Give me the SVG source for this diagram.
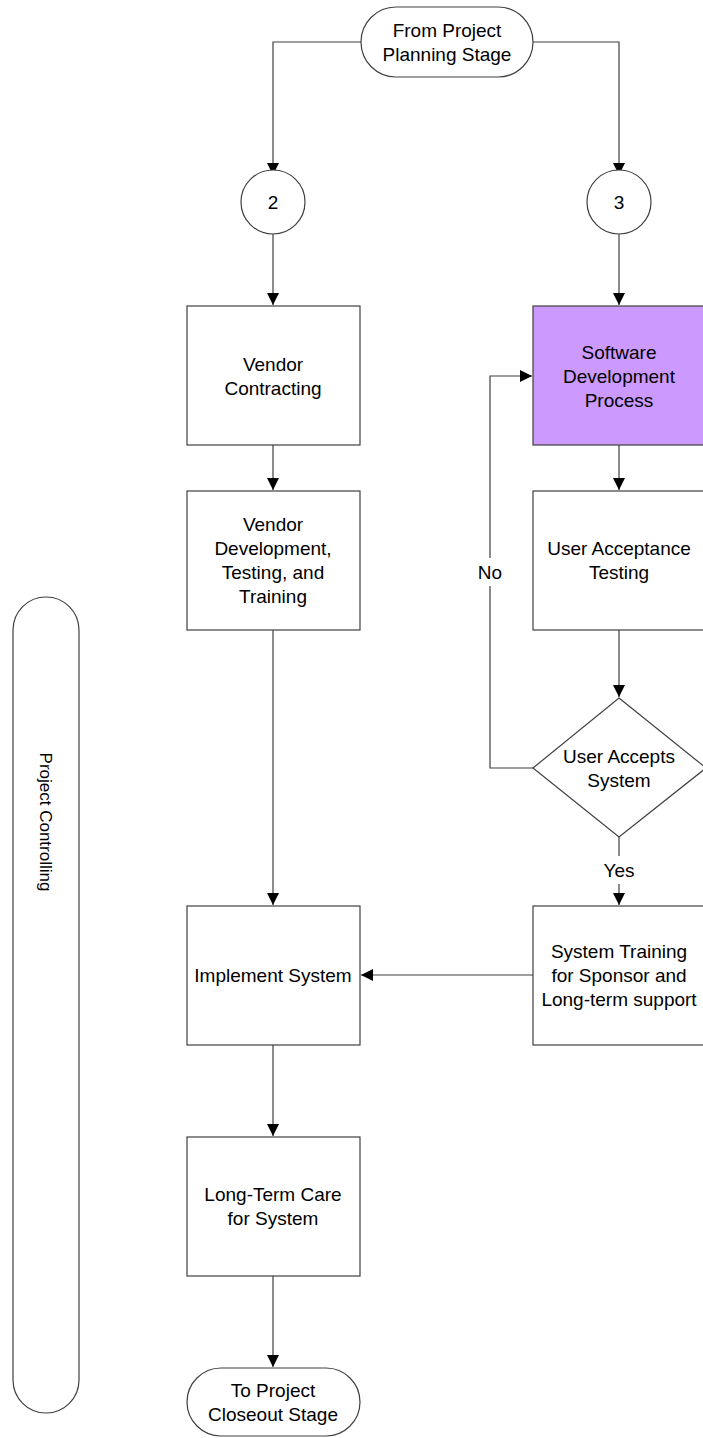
<svg xmlns="http://www.w3.org/2000/svg" width="703" height="1438" viewBox="0 0 703 1438">
<defs>
<marker id="arr" markerWidth="12" markerHeight="12" refX="12" refY="6" orient="auto" markerUnits="userSpaceOnUse">
<path d="M0,0 L12,6 L0,12 Z" fill="#000"/>
</marker>
<style>
.n{fill:#fff;stroke:#404040;stroke-width:1.2}
.p{fill:#CC99FF;stroke:#404040;stroke-width:1.2}
.t{font-family:"Liberation Sans",Arial,sans-serif;font-size:19px;fill:#000;text-anchor:middle}
.v{font-size:17px}
.c{fill:none;stroke:#404040;stroke-width:1.2}
</style>
</defs>
<rect width="703" height="1438" fill="#fff"/>
<g id="connectors">
<path class="c" d="M361,42 H273 V175" marker-end="url(#arr)"/>
<path class="c" d="M533,42 H619 V175" marker-end="url(#arr)"/>
<path class="c" d="M273,234 V305" marker-end="url(#arr)"/>
<path class="c" d="M619,234 V305" marker-end="url(#arr)"/>
<path class="c" d="M273,445 V490" marker-end="url(#arr)"/>
<path class="c" d="M619,445 V490" marker-end="url(#arr)"/>
<path class="c" d="M273,630 V905" marker-end="url(#arr)"/>
<path class="c" d="M619,630 V697" marker-end="url(#arr)"/>
<path class="c" d="M533,768 H490 V376 H532" marker-end="url(#arr)"/>
<path class="c" d="M619,837 V905" marker-end="url(#arr)"/>
<path class="c" d="M533,975 H361" marker-end="url(#arr)"/>
<path class="c" d="M273,1045 V1136" marker-end="url(#arr)"/>
<path class="c" d="M273,1276 V1367" marker-end="url(#arr)"/>
<rect x="476" y="558" width="28" height="28" fill="#fff"/>
<text class="t" x="490" y="579">No</text>
<rect x="598" y="856" width="42" height="28" fill="#fff"/>
<text class="t" x="619" y="877">Yes</text>
</g>
<g id="start">
<rect class="n" x="361" y="7" width="172" height="70" rx="35" ry="35"/>
<text class="t" x="447" y="37">From Project</text>
<text class="t" x="447" y="61">Planning Stage</text>
</g>
<g id="c2">
<circle class="n" cx="273" cy="202" r="32"/>
<text class="t" x="273" y="209">2</text>
</g>
<g id="c3">
<circle class="n" cx="619" cy="202" r="32"/>
<text class="t" x="619" y="209">3</text>
</g>
<g id="controlling">
<rect class="n" x="13" y="597" width="66" height="816" rx="33" ry="33"/>
<text class="t v" transform="translate(40,822) rotate(90)">Project Controlling</text>
</g>
<g id="vendor-contracting">
<rect class="n" x="187" y="306" width="173" height="139"/>
<text class="t" x="273" y="371">Vendor</text>
<text class="t" x="273" y="395">Contracting</text>
</g>
<g id="vendor-dev">
<rect class="n" x="187" y="491" width="173" height="139"/>
<text class="t" x="273" y="531">Vendor</text>
<text class="t" x="273" y="555">Development,</text>
<text class="t" x="273" y="579">Testing, and</text>
<text class="t" x="273" y="603">Training</text>
</g>
<g id="software-dev">
<rect class="p" x="533" y="306" width="173" height="139"/>
<text class="t" x="619" y="359">Software</text>
<text class="t" x="619" y="383">Development</text>
<text class="t" x="619" y="407">Process</text>
</g>
<g id="uat">
<rect class="n" x="533" y="491" width="173" height="139"/>
<text class="t" x="619" y="555">User Acceptance</text>
<text class="t" x="619" y="579">Testing</text>
</g>
<g id="decision">
<polygon class="n" points="619,698 706,768 619,837 533,768"/>
<text class="t" x="619" y="763">User Accepts</text>
<text class="t" x="619" y="787">System</text>
</g>
<g id="training">
<rect class="n" x="533" y="906" width="173" height="139"/>
<text class="t" x="619" y="958">System Training</text>
<text class="t" x="619" y="982">for Sponsor and</text>
<text class="t" x="619" y="1006">Long-term support</text>
</g>
<g id="implement">
<rect class="n" x="187" y="906" width="173" height="139"/>
<text class="t" x="273" y="982">Implement System</text>
</g>
<g id="long-term">
<rect class="n" x="187" y="1137" width="173" height="139"/>
<text class="t" x="273" y="1201">Long-Term Care</text>
<text class="t" x="273" y="1225">for System</text>
</g>
<g id="end">
<rect class="n" x="187" y="1368" width="173" height="68" rx="34" ry="34"/>
<text class="t" x="273" y="1397">To Project</text>
<text class="t" x="273" y="1421">Closeout Stage</text>
</g>
</svg>
